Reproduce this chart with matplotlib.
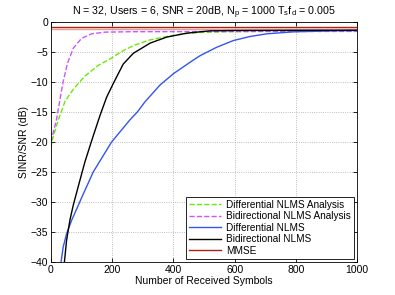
import numpy as np
import matplotlib
matplotlib.use("Agg")
import matplotlib.pyplot as plt

plt.rcParams["font.family"] = ["Liberation Sans", "DejaVu Sans"]
plt.rcParams["font.size"] = 7.5

# Differential NLMS Analysis (green dashed)
diff_an_x = [0, 4, 24, 46, 73, 111, 155, 198, 215, 242, 275, 324, 378, 432, 487, 574, 700, 850, 1000]
diff_an_y = [-21.0, -19.7, -16.3, -13.2, -11.2, -9.0, -7.2, -6.0, -5.4, -4.6, -3.8, -2.96, -2.4, -1.95, -1.73, -1.6, -1.52, -1.48, -1.45]

# Bidirectional NLMS Analysis (magenta dashed)
bidir_an_x = [0, 8, 18, 29, 40, 54, 73, 100, 133, 176, 261, 500, 1000]
bidir_an_y = [-20.0, -18.3, -16.3, -13.0, -9.9, -6.85, -4.35, -2.7, -1.95, -1.67, -1.6, -1.57, -1.55]

# Differential NLMS (blue)
diff_x = [33, 40, 51, 68, 82, 100, 138, 198, 258, 282, 307, 356, 400, 460, 487, 541, 596, 650, 705, 792, 922, 1000]
diff_y = [-40.0, -37.5, -35.3, -33.0, -31.4, -29.3, -25.0, -20.0, -16.3, -15.0, -13.3, -10.5, -8.6, -6.5, -5.6, -4.2, -3.07, -2.4, -1.95, -1.62, -1.45, -1.4]

# Bidirectional NLMS (black)
bidir_x = [44, 51, 62, 73, 95, 111, 136, 160, 182, 204, 236, 269, 324, 378, 444, 520, 600, 800, 1000]
bidir_y = [-40.0, -36.4, -33.0, -30.5, -26.3, -23.3, -19.3, -15.6, -12.5, -10.2, -7.0, -5.2, -3.5, -2.5, -1.84, -1.45, -1.4, -1.37, -1.35]

mmse_x = [0, 1000]
mmse_y = [-0.84, -0.84]
mmse2_y = [-1.08, -1.08]

fig = plt.figure(figsize=(3.95, 2.95), dpi=100)
ax = fig.add_axes([0.129, 0.112, 0.775, 0.813])

ax.plot(mmse_x, mmse2_y, color="#e8a090", lw=1.0)
ax.plot(diff_an_x, diff_an_y, "--", color="#66ee00", lw=1.0, label="Differential NLMS Analysis")
ax.plot(bidir_an_x, bidir_an_y, "--", color="#cc55ff", lw=1.0, label="Bidirectional NLMS Analysis")
ax.plot(diff_x, diff_y, color="#3355ee", lw=1.0, label="Differential NLMS")
ax.plot(bidir_x, bidir_y, color="black", lw=1.0, label="Bidirectional NLMS")
ax.plot(mmse_x, mmse_y, color="#aa2211", lw=1.0, label="MMSE")

ax.set_xlim(0, 1000)
ax.set_ylim(-40, 0)
ax.set_xticks(range(0, 1001, 200))
ax.set_yticks(range(-40, 1, 5))
ax.set_yticklabels([str(v).replace("-", "\u2212") for v in range(-40, 1, 5)])
ax.tick_params(direction="in", top=True, right=True, length=3, width=0.6, pad=2)
ax.grid(True, linestyle=":", color="#aaaaaa", lw=0.6)
for s in ax.spines.values():
    s.set_linewidth(0.6)

ax.set_xlabel("Number of Received Symbols", labelpad=1)
ax.set_ylabel("SINR/SNR (dB)", labelpad=1)
ax.set_title("N = 32, Users = 6, SNR = 20dB, N$_\\mathregular{p}$ = 1000 T$_\\mathregular{s}$f$_\\mathregular{d}$ = 0.005",
             fontsize=7.7, pad=5)

leg = ax.legend(loc="lower right", fancybox=False, edgecolor="black", framealpha=1,
                fontsize=7.2, handlelength=3.2, borderpad=0.3, labelspacing=0.15,
                handletextpad=0.5, borderaxespad=0.3)
leg.get_frame().set_linewidth(0.6)

fig.savefig("out.png", dpi=100)
